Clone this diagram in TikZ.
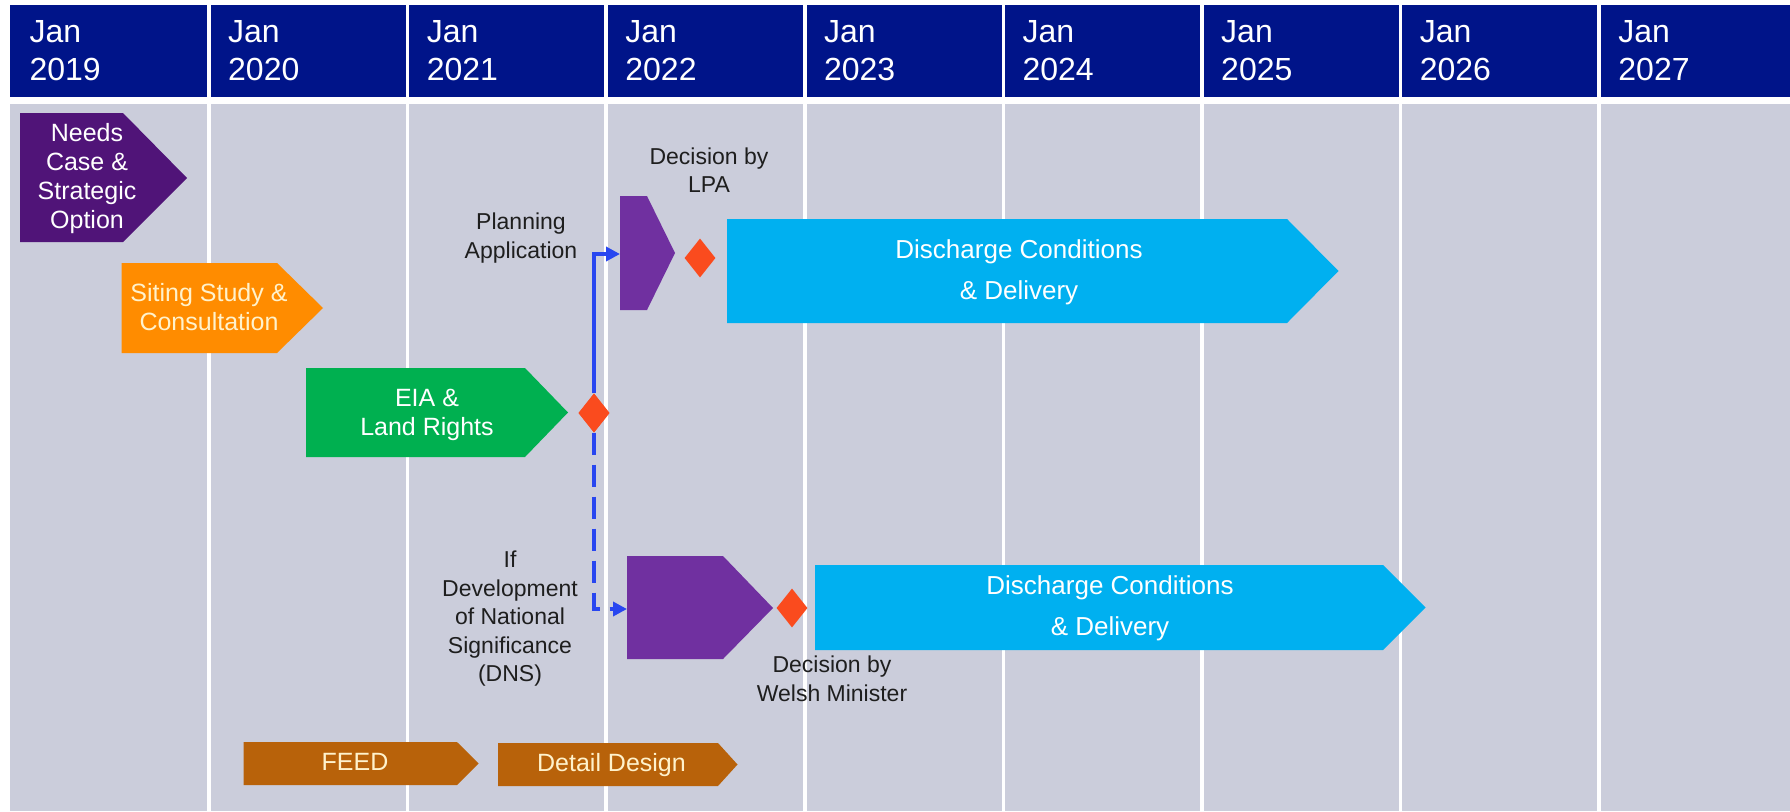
\documentclass[tikz,border=0pt]{standalone}
\usepackage{fontspec}
\setmainfont{Liberation Sans}
\usetikzlibrary{shapes.geometric,arrows.meta}
\definecolor{navy}{RGB}{0,20,137}
\definecolor{bodygray}{RGB}{203,205,219}
\definecolor{needsc}{RGB}{80,20,120}
\definecolor{purp}{RGB}{112,48,160}
\definecolor{orng}{RGB}{255,140,0}
\definecolor{grn}{RGB}{0,176,80}
\definecolor{cyn}{RGB}{0,176,240}
\definecolor{brwn}{RGB}{184,98,10}
\definecolor{redd}{RGB}{250,75,30}
\definecolor{bline}{RGB}{40,70,240}
\definecolor{cream}{RGB}{255,242,204}
\definecolor{dtext}{RGB}{30,30,30}
\begin{document}
\begin{tikzpicture}[x=1pt,y=-1pt,
  sep/.style={white,line width=3.5pt},
  hdr/.style={anchor=west,align=left,inner sep=0pt,text=white,font=\fontsize{32}{38}\selectfont},
  intext/.style={align=center,inner sep=0pt,text=white,font=\fontsize{25}{29}\selectfont},
  crtext/.style={intext,text=cream},
  cytext/.style={intext,font=\fontsize{26}{41}\selectfont},
  lbl/.style={align=center,inner sep=0pt,text=dtext,font=\fontsize{23}{28.5}\selectfont},
  dia/.style={diamond,fill=redd,draw=none,inner sep=0pt,minimum width=31pt,minimum height=39pt},
  conn/.style={bline,line width=3.5pt,-{Triangle[length=14pt,width=14pt]}}]
\useasboundingbox (0,0) rectangle (1790,811);
\fill[white] (0,0) rectangle (1790,811);
\fill[navy] (10,5) rectangle (1790,97);
\fill[bodygray] (10,104) rectangle (1790,811);
\foreach \k in {1,...,8} \draw[sep] ({209+198.6*(\k-1)},5) -- ++(0,806);
\foreach \yr [count=\i from 0] in {2019,...,2027}
  \node[hdr] (h\yr) at ({29.4+198.6*\i},50.5) {Jan\\\yr};
% shapes
\fill[needsc] (20,113) -- (123,113) -- (187,178) -- (123,242) -- (20,242) -- cycle;
\node[intext] (needs) at (87,178.7) {Needs\\Case \&\\Strategic\\Option};
\fill[orng] (121.7,263) -- (277,263) -- (323,308) -- (277,353) -- (121.7,353) -- cycle;
\node[crtext] (siting) at (209,306.7) {Siting Study \&\\Consultation};
\fill[grn] (306,368) -- (525,368) -- (568,412.5) -- (525,457) -- (306,457) -- cycle;
\node[intext] (eia) at (427,414.5) {EIA \&\\Land Rights};
\fill[purp] (620,196) -- (647,196) -- (675,253) -- (647,310) -- (620,310) -- cycle;
\fill[purp] (627,556) -- (723,556) -- (773,608) -- (723,659) -- (627,659) -- cycle;
\fill[cyn] (727,219) -- (1287,219) -- (1338.5,271) -- (1287,323) -- (727,323) -- cycle;
\node[cytext] (dis1) at (1019,272.7) {Discharge Conditions\\\& Delivery};
\fill[cyn] (815,565) -- (1383,565) -- (1425.5,607.5) -- (1383,650) -- (815,650) -- cycle;
\node[cytext] (dis2) at (1110,608.3) {Discharge Conditions\\\& Delivery};
\fill[brwn] (243.6,742) -- (457,742) -- (478.6,763.5) -- (457,785) -- (243.6,785) -- cycle;
\node[crtext] (feed) at (355,761.8) {FEED};
\fill[brwn] (498,743) -- (718,743) -- (737.5,764.5) -- (718,786) -- (498,786) -- cycle;
\node[crtext] (detail) at (611.5,765.2) {Detail Design};
% labels
\node[lbl,font=\fontsize{23}{28}\selectfont] (lpa) at (709,170.6) {Decision by\\LPA};
\node[lbl,font=\fontsize{23}{29}\selectfont] (plan) at (521,238.5) {Planning\\Application};
\node[lbl] (dns) at (510,619) {If\\Development\\of National\\Significance\\(DNS)};
\node[lbl,font=\fontsize{23}{29}\selectfont] (welsh) at (832,679) {Decision by\\Welsh Minister};
% connectors
\node[dia] (d1) at (594,413) {};
\coordinate (planin) at (620,254);
\coordinate (dnsin) at (627,609);
\draw[conn] (d1.north) |- (planin);
\draw[conn,dash pattern=on 22pt off 10pt] (d1.south) |- (dnsin);
\node[dia] (d1b) at (594,413) {};
\node[dia] (d2) at (700,258) {};
\node[dia] (d3) at (792,608) {};
\end{tikzpicture}
\end{document}
